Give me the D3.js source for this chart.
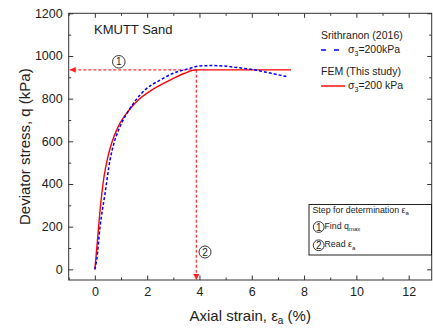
<!DOCTYPE html>
<meta charset="utf-8">
<html>
<head>
<script src="https://d3js.org/d3.v7.min.js"></script>
<style>
  body { margin: 0; background: #fff; }
  svg { font-family: "Liberation Sans", Arial, sans-serif; }
  .axis text { font-size: 12.5px; fill: #222; }
  .axis line { stroke: #333; }
  .axis path { display: none; }
</style>
</head>
<body>
<script>
// data: axial strain (%) vs deviator stress (kPa)
var testStrain = [0, 0.07, 0.2, 0.39, 0.58, 0.73, 0.96, 1.31, 1.57, 1.91, 2.49, 3.0, 3.63, 4.0, 4.5, 4.9, 5.5, 6.1, 6.7, 7.34];
var testStress = [0, 44, 200, 356, 512, 591, 668, 747, 794, 840, 887, 919, 942, 953, 955, 953, 945, 935, 920, 903];
var femStrain = [0, 0.09, 0.2, 0.35, 0.47, 0.64, 0.89, 1.31, 1.66, 2.17, 2.87, 3.44, 3.86, 7.5];
var femStress = [0, 122, 278, 434, 512, 591, 668, 747, 794, 840, 887, 919, 935, 935];

var qMax = 935, epsAtQmax = 3.88;

var xTicks = [0, 2, 4, 6, 8, 10, 12];
var xMinor = [-1, 1, 3, 5, 7, 9, 11];
var yTicks = [0, 200, 400, 600, 800, 1000, 1200];
var yMinor = [100, 300, 500, 700, 900, 1100];

// plot frame (window.top is reserved, so use other names)
var W = 433, H = 331;
var pL = 68.7, pR = 431.7, pT = 13.3, pB = 280;

var x = d3.scaleLinear().domain([-1, 12.88]).range([pL, pR]);
var y = d3.scaleLinear().domain([-50, 1200]).range([pB, pT]);

var svg = d3.select("body").append("svg")
  .attr("width", W)
  .attr("height", H);

var defs = svg.append("defs");
defs.append("marker")
  .attr("id", "arrow")
  .attr("viewBox", "0 0 10 10")
  .attr("refX", 10).attr("refY", 5)
  .attr("markerWidth", 6).attr("markerHeight", 6)
  .attr("markerUnits", "userSpaceOnUse")
  .attr("orient", "auto")
  .append("path")
  .attr("d", "M0,0L10,5L0,10Z")
  .attr("fill", "#ff2020");

// axes, ticks all pointing inward
svg.append("g").attr("class", "axis")
  .attr("transform", "translate(0," + pB + ")")
  .call(d3.axisBottom(x).tickValues(xTicks).tickSize(-4.5).tickPadding(7).tickFormat(d3.format("d")));
svg.append("g").attr("class", "axis")
  .attr("transform", "translate(0," + pB + ")")
  .call(d3.axisBottom(x).tickValues(xMinor).tickSize(-2.5).tickFormat(""));
svg.append("g").attr("class", "axis")
  .attr("transform", "translate(0," + pT + ")")
  .call(d3.axisTop(x).tickValues(xTicks).tickSize(-4.5).tickFormat(""));
svg.append("g").attr("class", "axis")
  .attr("transform", "translate(0," + pT + ")")
  .call(d3.axisTop(x).tickValues(xMinor).tickSize(-2.5).tickFormat(""));

svg.append("g").attr("class", "axis")
  .attr("transform", "translate(" + pL + ",0)")
  .call(d3.axisLeft(y).tickValues(yTicks).tickSize(-4.5).tickPadding(6).tickFormat(d3.format("d")));
svg.append("g").attr("class", "axis")
  .attr("transform", "translate(" + pL + ",0)")
  .call(d3.axisLeft(y).tickValues(yMinor).tickSize(-2.5).tickFormat(""));
svg.append("g").attr("class", "axis")
  .attr("transform", "translate(" + pR + ",0)")
  .call(d3.axisRight(y).tickValues(yTicks).tickSize(-4.5).tickFormat(""));
svg.append("g").attr("class", "axis")
  .attr("transform", "translate(" + pR + ",0)")
  .call(d3.axisRight(y).tickValues(yMinor).tickSize(-2.5).tickFormat(""));

svg.append("rect")
  .attr("x", pL).attr("y", pT)
  .attr("width", pR - pL).attr("height", pB - pT)
  .attr("fill", "none").attr("stroke", "#333").attr("stroke-width", 1);

// axis titles
svg.append("text")
  .attr("transform", "translate(30," + ((pT + pB) / 2) + ") rotate(-90)")
  .attr("text-anchor", "middle")
  .style("font-size", "15px").attr("fill", "#222")
  .text("Deviator stress, q (kPa)");

var xt = svg.append("text")
  .attr("x", (pL + pR) / 2).attr("y", 321)
  .attr("text-anchor", "middle")
  .style("font-size", "15px").attr("fill", "#222");
xt.append("tspan").text("Axial strain, ε");
xt.append("tspan").attr("dy", 3).style("font-size", "10px").text("a");
xt.append("tspan").attr("dy", -3).text(" (%)");

// guide lines for qmax and strain
svg.append("line")
  .attr("x1", x(epsAtQmax)).attr("y1", y(qMax))
  .attr("x2", x(-1) + 1).attr("y2", y(qMax))
  .attr("stroke", "#ff3030").attr("stroke-width", 1.2)
  .attr("stroke-dasharray", "3,2")
  .attr("marker-end", "url(#arrow)");
svg.append("line")
  .attr("x1", x(epsAtQmax)).attr("y1", y(qMax))
  .attr("x2", x(epsAtQmax)).attr("y2", pB)
  .attr("stroke", "#ff3030").attr("stroke-width", 1.2)
  .attr("stroke-dasharray", "3,2")
  .attr("marker-end", "url(#arrow)");

// curves
var line = d3.line()
  .x(function(d) { return x(d[0]); })
  .y(function(d) { return y(d[1]); })
  .curve(d3.curveMonotoneX);

svg.append("path")
  .datum(d3.zip(femStrain, femStress))
  .attr("fill", "none")
  .attr("stroke", "#ff0000")
  .attr("stroke-width", 1.4)
  .attr("d", line);

svg.append("path")
  .datum(d3.zip(testStrain, testStress))
  .attr("fill", "none")
  .attr("stroke", "#0000ff")
  .attr("stroke-width", 1.5)
  .attr("stroke-dasharray", "3,2")
  .attr("d", line);

// circled step numbers
function circled(cx, cy, r, label, fs) {
  svg.append("circle")
    .attr("cx", cx).attr("cy", cy).attr("r", r)
    .attr("fill", "none").attr("stroke", "#222").attr("stroke-width", 0.9);
  svg.append("text")
    .attr("x", cx).attr("y", cy + fs * 0.36)
    .attr("text-anchor", "middle")
    .style("font-size", fs + "px").attr("fill", "#222")
    .text(label);
}
circled(118.8, 61.8, 6.3, "1", 10);
circled(205, 252, 6, "2", 10);

// title
svg.append("text")
  .attr("x", 94).attr("y", 34.3)
  .style("font-size", "13px").attr("fill", "#222")
  .text("KMUTT Sand");

// legend
var lg = svg.append("g").style("font-size", "10.5px").attr("fill", "#222");
lg.append("text").attr("x", 321).attr("y", 38.5).text("Srithranon (2016)");
lg.append("line")
  .attr("x1", 321).attr("x2", 339).attr("y1", 50).attr("y2", 50)
  .attr("stroke", "#0000ff").attr("stroke-width", 1.5)
  .attr("stroke-dasharray", "5,8");
var t1 = lg.append("text").attr("x", 348).attr("y", 53);
t1.append("tspan").text("σ");
t1.append("tspan").attr("dy", 2.5).style("font-size", "7px").text("3");
t1.append("tspan").attr("dy", -2.5).text("=200kPa");

lg.append("text").attr("x", 321).attr("y", 75).text("FEM (This study)");
lg.append("line")
  .attr("x1", 321).attr("x2", 345).attr("y1", 86).attr("y2", 86)
  .attr("stroke", "#ff0000").attr("stroke-width", 1.4);
var t2 = lg.append("text").attr("x", 348).attr("y", 89);
t2.append("tspan").text("σ");
t2.append("tspan").attr("dy", 2.5).style("font-size", "7px").text("3");
t2.append("tspan").attr("dy", -2.5).text("=200 kPa");

// step box
svg.append("rect")
  .attr("x", 309).attr("y", 204.5)
  .attr("width", 122.5).attr("height", 50.5)
  .attr("fill", "#fff").attr("stroke", "#222").attr("stroke-width", 1);
var bs = svg.append("text").attr("x", 312.5).attr("y", 213)
  .style("font-size", "8.8px").attr("fill", "#222");
bs.append("tspan").text("Step for determination ε");
bs.append("tspan").attr("dy", 2).style("font-size", "6px").text("a");

circled(318.7, 227, 5.4, "1", 10);
var f1 = svg.append("text").attr("x", 324.5).attr("y", 228.5)
  .style("font-size", "8.8px").attr("fill", "#222");
f1.append("tspan").text("Find q");
f1.append("tspan").attr("dy", 2.5).style("font-size", "6px").text("max");

circled(318.7, 245.3, 5.4, "2", 10);
var f2 = svg.append("text").attr("x", 324.5).attr("y", 247)
  .style("font-size", "8.8px").attr("fill", "#222");
f2.append("tspan").text("Read ε");
f2.append("tspan").attr("dy", 2.5).style("font-size", "6px").text("a");
</script>
</body>
</html>
